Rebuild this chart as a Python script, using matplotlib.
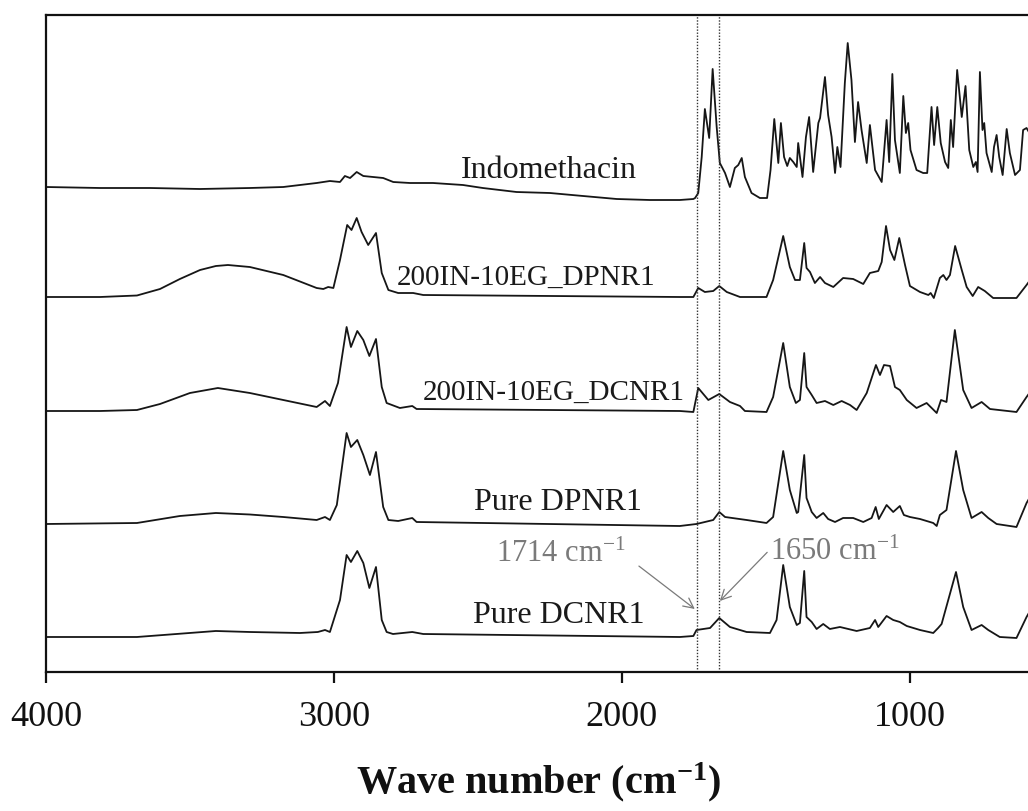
import matplotlib
matplotlib.use('Agg')
import matplotlib.pyplot as plt

plt.rcParams['font.family'] = ['Liberation Serif', 'DejaVu Serif']
plt.rcParams['mathtext.fontset'] = 'custom'
plt.rcParams['mathtext.rm'] = 'Liberation Serif'
plt.rcParams['mathtext.it'] = 'Liberation Serif:italic'
plt.rcParams['mathtext.bf'] = 'Liberation Serif:bold'

# ---------------- data (wavenumber cm-1, relative absorbance) ----------------
labels = ["Indomethacin", "200IN-10EG_DPNR1", "200IN-10EG_DCNR1", "Pure DPNR1", "Pure DCNR1"]
offsets = [4.84, 3.75, 2.61, 1.48, 0.35]

indo_wn = [4000, 3812, 3639, 3465, 3292, 3176, 3060, 3014, 2979, 2962, 2944, 2921, 2898, 2864, 2829,
           2794, 2736, 2656, 2552, 2483, 2366, 2250, 2135, 2018, 1903, 1799, 1752, 1746, 1735, 1723,
           1712, 1697, 1685, 1671, 1660, 1642, 1625, 1608, 1596, 1584, 1573, 1550, 1521, 1496, 1484,
           1471, 1457, 1448, 1437, 1426, 1417, 1405, 1393, 1388, 1373, 1361, 1350, 1336, 1318, 1312,
           1295, 1284, 1272, 1260, 1252, 1241, 1226, 1216, 1203, 1191, 1180, 1168, 1150, 1139, 1121,
           1098, 1081, 1072, 1061, 1052, 1035, 1023, 1014, 1006, 998, 977, 954, 940, 925, 916,
           905, 893, 878, 867, 858, 850, 836, 820, 807, 794, 780, 771, 765, 757, 748,
           742, 734, 716, 708, 699, 690, 678, 664, 653, 635, 618, 607, 595, 585]
indo_abs = [0.01, 0.00, 0.00, -0.01, 0.00, 0.01, 0.05, 0.07, 0.06, 0.12, 0.10, 0.16, 0.12, 0.11, 0.10,
            0.06, 0.05, 0.05, 0.03, 0.00, -0.04, -0.05, -0.08, -0.11, -0.12, -0.12, -0.11, -0.10, -0.05, 0.31,
            0.79, 0.50, 1.19, 0.61, 0.25, 0.15, 0.01, 0.20, 0.23, 0.30, 0.11, -0.05, -0.10, -0.10, 0.18,
            0.69, 0.25, 0.65, 0.31, 0.22, 0.30, 0.26, 0.21, 0.45, 0.11, 0.51, 0.71, 0.16, 0.65, 0.70,
            1.11, 0.73, 0.51, 0.15, 0.41, 0.21, 1.05, 1.45, 1.08, 0.46, 0.86, 0.58, 0.25, 0.63, 0.18,
            0.06, 0.68, 0.26, 1.14, 0.48, 0.15, 0.92, 0.55, 0.65, 0.38, 0.18, 0.15, 0.15, 0.81, 0.43,
            0.81, 0.45, 0.26, 0.20, 0.68, 0.41, 1.18, 0.71, 1.02, 0.38, 0.21, 0.26, 0.16, 1.16, 0.58,
            0.65, 0.35, 0.16, 0.41, 0.53, 0.31, 0.13, 0.59, 0.35, 0.13, 0.18, 0.58, 0.60, 0.55]

dpnr_blend_wn = [4000, 3812, 3684, 3604, 3535, 3465, 3410, 3368, 3292, 3176, 3060, 3037, 3020, 3002,
                 2979, 2954, 2939, 2921, 2904, 2881, 2854, 2834, 2811, 2777, 2725, 2690, 1799, 1752,
                 1735, 1712, 1683, 1662, 1636, 1590, 1498, 1475, 1440, 1417, 1399, 1382, 1367, 1359,
                 1347, 1330, 1312, 1295, 1266, 1232, 1197, 1162, 1139, 1110, 1098, 1083, 1069, 1054,
                 1037, 1017, 1000, 965, 936, 928, 917, 896, 884, 873, 861, 843, 820, 803, 782, 763,
                 740, 711, 630, 595, 585]
dpnr_blend_abs = [0.00, 0.00, 0.015, 0.08, 0.18, 0.27, 0.31, 0.32, 0.30, 0.22, 0.09, 0.08, 0.10, 0.09,
                  0.37, 0.72, 0.67, 0.79, 0.65, 0.52, 0.64, 0.24, 0.07, 0.04, 0.04, 0.02, 0.00, 0.00,
                  0.09, 0.05, 0.06, 0.11, 0.05, 0.00, 0.00, 0.17, 0.61, 0.30, 0.17, 0.17, 0.54, 0.29,
                  0.25, 0.14, 0.20, 0.14, 0.10, 0.19, 0.18, 0.13, 0.24, 0.26, 0.35, 0.71, 0.47, 0.37,
                  0.59, 0.32, 0.11, 0.05, 0.02, 0.04, -0.01, 0.19, 0.22, 0.17, 0.22, 0.51, 0.27, 0.10,
                  0.01, 0.10, 0.06, -0.01, -0.01, 0.12, 0.16]

dcnr_blend_wn = [4000, 3812, 3684, 3604, 3500, 3403, 3292, 3176, 3060, 3031, 3014, 2986, 2956, 2941,
                 2919, 2898, 2877, 2854, 2834, 2817, 2771, 2728, 2713, 1799, 1752, 1735, 1700, 1662,
                 1625, 1590, 1573, 1498, 1475, 1440, 1417, 1396, 1382, 1367, 1359, 1341, 1324, 1295,
                 1266, 1237, 1208, 1185, 1150, 1118, 1104, 1090, 1069, 1052, 1035, 1011, 977, 942,
                 907, 892, 873, 844, 815, 786, 751, 722, 630, 595, 585]
dcnr_blend_abs = [0.00, 0.00, 0.01, 0.07, 0.18, 0.23, 0.18, 0.11, 0.04, 0.10, 0.05, 0.28, 0.84, 0.64,
                  0.80, 0.71, 0.55, 0.72, 0.24, 0.08, 0.03, 0.05, 0.02, 0.00, -0.01, 0.23, 0.11, 0.17,
                  0.09, 0.05, 0.00, -0.01, 0.14, 0.68, 0.24, 0.08, 0.11, 0.58, 0.24, 0.16, 0.08, 0.10,
                  0.06, 0.10, 0.06, 0.01, 0.18, 0.46, 0.36, 0.46, 0.45, 0.24, 0.21, 0.11, 0.03, 0.08,
                  -0.02, 0.11, 0.09, 0.81, 0.21, 0.03, 0.09, 0.02, -0.01, 0.14, 0.18]

dpnr_wn = [4000, 3684, 3535, 3410, 3292, 3176, 3060, 3031, 3014, 2990, 2956, 2941, 2919, 2898, 2875,
           2854, 2829, 2811, 2777, 2728, 2713, 2483, 1799, 1741, 1683, 1662, 1642, 1567, 1498, 1475,
           1440, 1417, 1393, 1388, 1367, 1359, 1341, 1324, 1301, 1284, 1260, 1232, 1197, 1162, 1133,
           1119, 1108, 1081, 1058, 1035, 1021, 1000, 965, 919, 907, 896, 873, 840, 815, 786, 751,
           728, 699, 630, 595, 585]
dpnr_abs = [0.00, 0.01, 0.08, 0.11, 0.095, 0.07, 0.04, 0.07, 0.04, 0.19, 0.91, 0.77, 0.84, 0.69, 0.49,
            0.72, 0.17, 0.04, 0.03, 0.06, 0.02, 0.01, -0.02, 0.00, 0.04, 0.12, 0.07, 0.04, 0.01, 0.07,
            0.73, 0.34, 0.11, 0.12, 0.69, 0.26, 0.12, 0.06, 0.11, 0.05, 0.02, 0.06, 0.06, 0.02, 0.06,
            0.17, 0.05, 0.19, 0.12, 0.18, 0.09, 0.07, 0.05, 0.01, -0.02, 0.09, 0.14, 0.73, 0.34, 0.06, 0.12,
            0.06, 0.00, -0.03, 0.21, 0.26]

dcnr_wn = [4000, 3684, 3410, 3292, 3118, 3056, 3031, 3014, 2979, 2956, 2941, 2919, 2898, 2877, 2854,
           2834, 2817, 2795, 2728, 2690, 1799, 1752, 1741, 1694, 1662, 1625, 1567, 1486, 1463, 1440,
           1417, 1393, 1382, 1367, 1359, 1341, 1324, 1301, 1278, 1243, 1185, 1139, 1121, 1110, 1081,
           1058, 1035, 1011, 965, 919, 902, 890, 840, 815, 786, 751, 728, 688, 630, 595, 585]
dcnr_abs = [0.00, 0.00, 0.06, 0.05, 0.04, 0.05, 0.07, 0.05, 0.37, 0.82, 0.75, 0.86, 0.74, 0.49, 0.70,
            0.17, 0.05, 0.03, 0.05, 0.03, 0.00, 0.01, 0.07, 0.09, 0.19, 0.10, 0.05, 0.04, 0.17, 0.72,
            0.30, 0.12, 0.14, 0.66, 0.20, 0.15, 0.08, 0.13, 0.08, 0.10, 0.06, 0.09, 0.17, 0.10, 0.21,
            0.17, 0.15, 0.11, 0.07, 0.04, 0.09, 0.13, 0.65, 0.30, 0.07, 0.12, 0.07, 0.00, -0.01, 0.20, 0.25]

spectra_wn = [indo_wn, dpnr_blend_wn, dcnr_blend_wn, dpnr_wn, dcnr_wn]
spectra_abs = [indo_abs, dpnr_blend_abs, dcnr_blend_abs, dpnr_abs, dcnr_abs]

marker_lines = [1739, 1662]           # dotted guide lines
marker_texts = ["1714 cm$^{-1}$", "1650 cm$^{-1}$"]
xticks = [4000, 3000, 2000, 1000]

# ---------------- figure ----------------
fig = plt.figure(figsize=(10.28, 8.11), dpi=100)
ax = fig.add_axes([0.0447, 0.1714, 0.9609, 0.8101])
ax.set_xlim(4000, 570)
ax.set_ylim(0, 6.57)

line_color = '#161616'
for wn, ab, off in zip(spectra_wn, spectra_abs, offsets):
    ax.plot(wn, [a + off for a in ab], color=line_color, lw=1.3, solid_joinstyle='round')

for xv in marker_lines:
    ax.axvline(xv, color='#333333', lw=1.0, ls=(0, (1, 1.2)))

# trace labels (right-aligned)
label_pos = [(1948, 4.94), (1885, 3.87), (1781, 2.72), (1931, 1.62), (1920, 0.49)]
label_size = [23, 21, 21, 23, 23]
for lab, (xp, yp), fs in zip(labels, label_pos, label_size):
    ax.text(xp, yp, lab, ha='right', va='baseline', fontsize=fs, color='#1a1a1a')

# peak annotations
ax.annotate(marker_texts[0], xy=(1747, 0.63), xytext=(1986, 1.10), ha='right', va='baseline',
            fontsize=22, color='#7a7a7a',
            arrowprops=dict(arrowstyle='->', color='#7a7a7a', lw=0.9, mutation_scale=18,
                            shrinkA=0, shrinkB=0, relpos=(1.1, 0.1)))
ax.annotate(marker_texts[1], xy=(1660, 0.71), xytext=(1486, 1.12), ha='left', va='baseline',
            fontsize=22, color='#7a7a7a',
            arrowprops=dict(arrowstyle='->', color='#7a7a7a', lw=0.9, mutation_scale=18,
                            shrinkA=0, shrinkB=0, relpos=(0.0, 0.6)))

for s in ['left', 'bottom', 'top']:
    ax.spines[s].set_linewidth(1.6)
    ax.spines[s].set_color('#111111')
ax.spines['right'].set_visible(False)

ax.set_yticks([])
ax.set_xticks(xticks)
ax.set_xticklabels([str(t) for t in xticks])
ax.tick_params(axis='x', direction='out', length=8, width=1.6, labelsize=26, pad=13,
               colors='#111111', top=False)

fig.text(0.524, 0.022, r'Wave number (cm$^{\mathbf{-1}}$)', ha='center', va='baseline',
         fontsize=29, fontweight='bold', color='#111111')

fig.savefig('out.png', dpi=100)
